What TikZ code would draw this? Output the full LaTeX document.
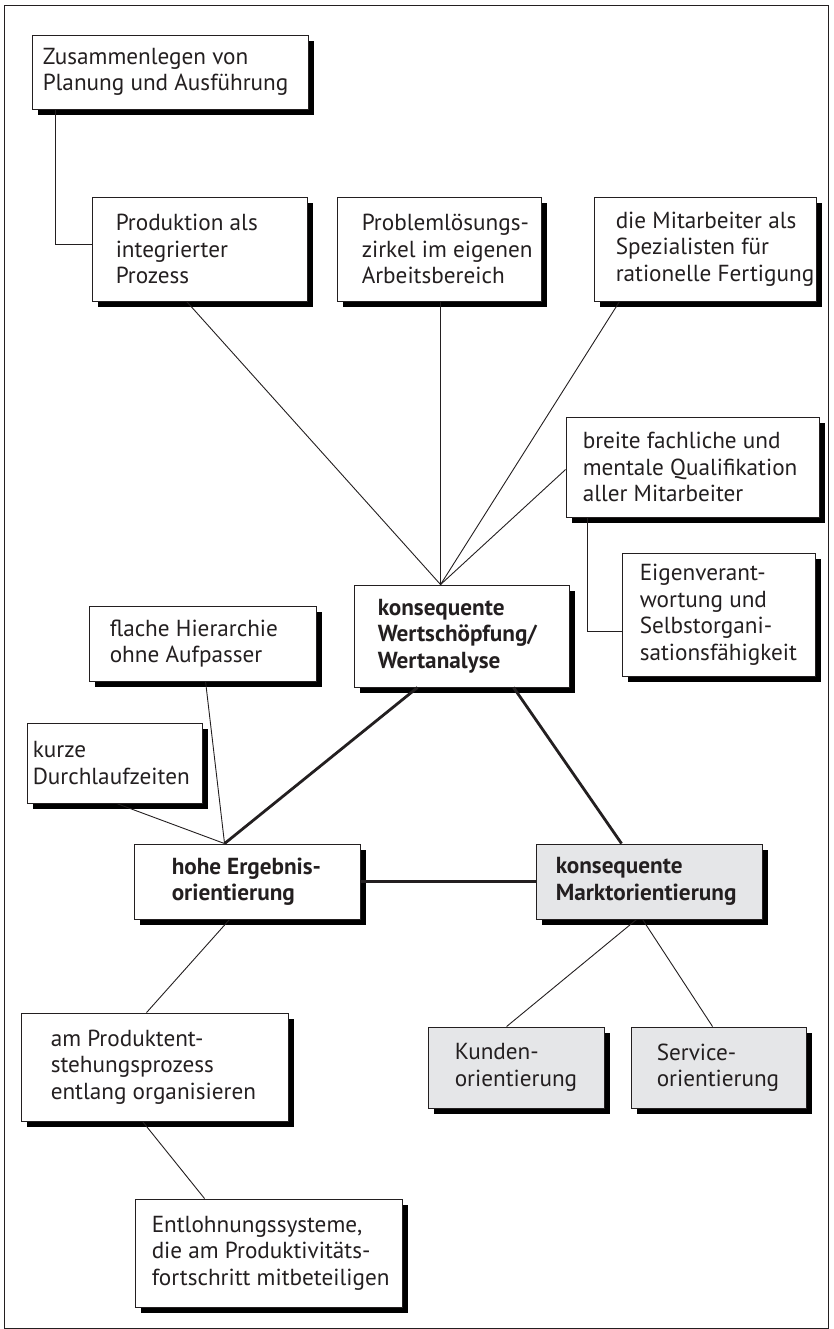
\documentclass[tikz,border=0pt]{standalone}
\usepackage{fontspec}
\setmainfont{PT Sans}
\usetikzlibrary{calc}
\definecolor{ink}{RGB}{35,31,32}
\definecolor{boxgray}{RGB}{229,230,232}
\tikzset{
  boxst/.style={draw=ink, line width=0.9pt, fill=white, inner sep=0pt},
  shadowst/.style={fill=black, draw=none},
  grayfill/.style={fill=boxgray},
  txtst/.style={inner sep=0pt, align=left, text=ink, font=\fontsize{23.2}{26.5}\selectfont},
  boldtxt/.style={font=\fontsize{23.2}{26.5}\selectfont\bfseries},
  con/.style={draw=ink, line width=0.9pt},
  thickcon/.style={draw=ink, line width=2.8pt},
}
% name, x, y, W, H, pad, boxstyle, textstyle, text
\newcommand{\mybox}[9]{%
  \node[boxst,#7,minimum width=#4pt,minimum height=#5pt] (#1) at ({#2+#4/2},{#3+#5/2}) {};
  \fill[shadowst] ($(#1.north east)+(0.4,6)$) rectangle ($(#1.south east)+(6,6)$);
  \fill[shadowst] ($(#1.south west)+(6,0.4)$) rectangle ($(#1.south east)+(6,6)$);
  \node[txtst,#8,anchor=west] (#1t) at ([xshift=#6pt]#1.west) {#9};
}
\begin{document}
\begin{tikzpicture}[x=1pt,y=-1pt]
\useasboundingbox (0,0) rectangle (833,1329);
\draw[line width=0.9pt, draw=ink] (4,5) rectangle (828,1328);

\mybox{zus}{32}{35}{276}{74}{11}{}{}{Zusammenlegen von\\Planung und Ausführung}
\mybox{prod}{92}{197}{215}{104}{24}{}{}{Produktion als\\integrierter\\Prozess}
\mybox{prob}{337}{197}{204}{104}{25}{}{}{Problemlösungs-\\zirkel im eigenen\\Arbeitsbereich}
\mybox{mit}{594}{197}{222}{104}{22}{}{}{die Mitarbeiter als\\Spezialisten für\\rationelle Fertigung}
\mybox{breite}{566}{417}{253}{100}{17}{}{}{breite fachliche und\\mentale Qualifikation\\aller Mitarbeiter}
\mybox{eigen}{622}{553}{193}{123}{18}{}{}{Eigenverant-\\wortung und\\Selbstorgani-\\sationsfähigkeit}
\mybox{wert}{354}{585}{215}{102}{24}{}{boldtxt}{konsequente\\Wertschöpfung/\\Wertanalyse}
\mybox{flache}{89}{606}{227}{75}{21}{}{}{flache Hierarchie\\ohne Aufpasser}
\mybox{kurze}{27}{723}{175}{80}{6}{}{}{kurze\\Durchlaufzeiten}
\mybox{hohe}{134}{844}{226}{75}{38}{}{boldtxt}{hohe Ergebnis-\\orientierung}
\mybox{markt}{536}{844}{226}{75}{20}{grayfill}{boldtxt}{konsequente\\Marktorientierung}
\mybox{am}{21}{1013}{267}{108}{30}{}{}{am Produktent-\\stehungsprozess\\entlang organisieren}
\mybox{kunden}{428}{1027}{176}{81}{27}{grayfill}{}{Kunden-\\orientierung}
\mybox{service}{631}{1027}{175}{81}{26}{grayfill}{}{Service-\\orientierung}
\mybox{entl}{135}{1199}{267}{108}{17}{}{}{Entlohnungssysteme,\\die am Produktivitäts-\\fortschritt mitbeteiligen}

\coordinate (wtop) at ($(wert.north west)+(87,0)$);
\coordinate (htop) at ($(hohe.north west)+(91,0)$);

\draw[con] ($(zus.south west)+(24,0)$) |- ($(prod.north west)+(0,48)$);
\draw[con] ($(prod.south west)+(95,0)$) -- (wtop);
\draw[con] ($(prob.south west)+(104,0)$) -- (wtop);
\draw[con] ($(mit.south west)+(26,0)$) -- (wtop);
\draw[con] ($(breite.north west)+(0,53)$) -- (wtop);
\draw[con] ($(breite.south west)+(22,0)$) |- ($(eigen.north west)+(0,79)$);
\draw[thickcon] ($(wert.south west)+(64,0)$) -- (htop);
\draw[thickcon] ($(wert.south west)+(160,0)$) -- ($(markt.north west)+(86,0)$);
\draw[thickcon] (hohe.east) -- (markt.west);
\draw[con] ($(flache.south west)+(117,0)$) -- (htop);
\draw[con] ($(kurze.south west)+(90,0)$) -- (htop);
\draw[con] ($(hohe.south west)+(96,0)$) -- ($(am.north west)+(126,0)$);
\draw[con] ($(am.south west)+(122,0)$) -- ($(entl.north west)+(70,0)$);
\draw[con] ($(markt.south west)+(101,0)$) -- ($(kunden.north west)+(79,0)$);
\draw[con] ($(markt.south west)+(107,0)$) -- ($(service.north west)+(82,0)$);
\end{tikzpicture}
\end{document}
